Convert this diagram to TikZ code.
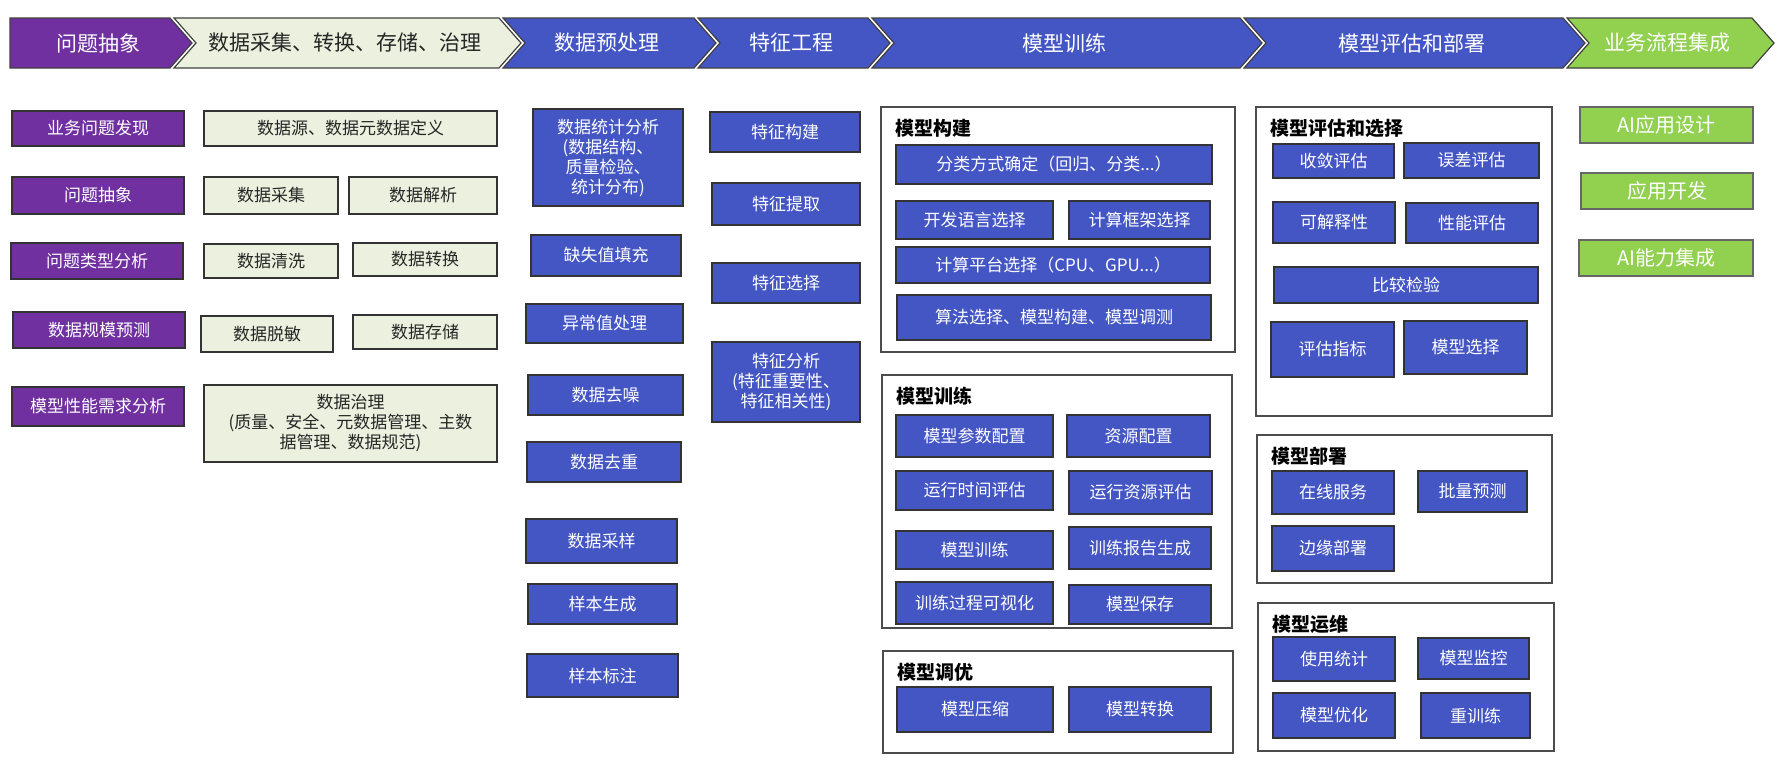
\documentclass[tikz,border=0pt]{standalone}
\usepackage{fontspec}
\setmainfont{Noto Sans CJK SC}
\usepackage{xcolor}
\usepackage{tikz}
\definecolor{AbsPurple}{RGB}{112, 48, 160}
\definecolor{DataPale}{RGB}{235, 241, 222}
\definecolor{PrepBlue}{RGB}{68, 86, 196}
\definecolor{BizGreen}{RGB}{146, 208, 80}

\tikzset{
  boxbase/.style={draw=black!80, line width=1.3pt, inner sep=1pt, align=center, font=\fontsize{17}{20}\selectfont},
  purplebox/.style={boxbase, fill=AbsPurple, text=white},
  palebox/.style={boxbase, fill=DataPale, text=black!85},
  bluebox/.style={boxbase, fill=PrepBlue, text=white},
  greenbox/.style={boxbase, draw=black!60, fill=BizGreen, text=white, font=\fontsize{20}{23}\selectfont},
  groupbox/.style={draw=black!70, line width=1.2pt, fill=white, inner sep=0pt},
  grouptitle/.style={anchor=west, inner sep=0pt, text=black, font=\bfseries\fontsize{19}{22}\selectfont},
  stagetext/.style={font=\fontsize{21}{24}\selectfont}
}

\begin{document}
\begin{tikzpicture}[x=1pt,y=-1pt]
  \path[use as bounding box] (0,0) rectangle (1782,769);

  % stage banner
  \foreach \n/\xa/\xb/\nd/\col/\tcol/\txt in {
    1/10/170/0/AbsPurple/white/问题抽象,
    2/174/499/22/DataPale/black!85/数据采集、转换、存储、治理,
    3/503/694/22/PrepBlue/white/数据预处理,
    4/698/868/22/PrepBlue/white/特征工程,
    5/872/1240/22/PrepBlue/white/模型训练,
    6/1244/1563/22/PrepBlue/white/模型评估和部署,
    7/1567/1752/22/BizGreen/white/业务流程集成}{
    \filldraw[fill=\col, draw=black!75, line width=1.2pt]
      (\xa,18) -- (\xb,18) -- ({\xb+22},43) -- (\xb,68) -- (\xa,68) -- ({\xa+\nd},43) -- cycle;
    \node[stagetext, text=\tcol] (stage\n) at ({(\xa+\xb)/2+8},43) {\txt};
  }

  % group frames
  \foreach \n/\xa/\ya/\xb/\yb/\txt in {
    g1/881/107/1235/352/模型构建,
    g2/882/375/1232/628/模型训练,
    g3/883/651/1233/753/模型调优,
    h1/1256/107/1552/416/模型评估和选择,
    h2/1257/435/1552/583/模型部署,
    h3/1258/603/1554/751/模型运维}{
    \node[groupbox, minimum width={(\xb-\xa)*1pt}, minimum height={(\yb-\ya)*1pt}] (\n) at ({(\xa+\xb)/2},{(\ya+\yb)/2}) {};
    \node[grouptitle] (\n title) at ({\xa+14},{\ya+21}) {\txt};
  }

  % problem abstraction
  \foreach \n/\xa/\ya/\xb/\yb/\txt in {
    p1/12/111/184/146/业务问题发现,
    p2/12/177/184/214/问题抽象,
    p3/11/243/183/279/问题类型分析,
    p4/13/312/185/348/数据规模预测,
    p5/12/387/184/426/模型性能需求分析}{
    \node[purplebox, minimum width={(\xb-\xa)*1pt}, minimum height={(\yb-\ya)*1pt}] (\n) at ({(\xa+\xb)/2},{(\ya+\yb)/2}) {\txt};
  }

  % data collection
  \foreach \n/\xa/\ya/\xb/\yb/\txt in {
    d1/204/111/497/146/数据源、数据元数据定义,
    d2/204/177/338/214/数据采集,
    d3/349/177/497/214/数据解析,
    d4/204/244/338/278/数据清洗,
    d5/353/243/497/276/数据转换,
    d6/201/316/333/352/数据脱敏,
    d7/353/315/497/349/数据存储,
    d8/204/385/497/462/{数据治理\\(质量、安全、元数据管理、主数\\据管理、数据规范)}}{
    \node[palebox, minimum width={(\xb-\xa)*1pt}, minimum height={(\yb-\ya)*1pt}] (\n) at ({(\xa+\xb)/2},{(\ya+\yb)/2}) {\txt};
  }

  % preprocessing, features, training, evaluation
  \foreach \n/\xa/\ya/\xb/\yb/\txt in {
    q1/533/109/683/206/{数据统计分析\\(数据结构、\\质量检验、\\统计分布)},
    q2/531/235/681/276/缺失值填充,
    q3/526/304/683/343/异常值处理,
    q4/528/375/683/415/数据去噪,
    q5/527/442/681/482/数据去重,
    q6/526/519/677/563/数据采样,
    q7/528/584/677/624/样本生成,
    q8/527/654/678/697/样本标注,
    f1/710/112/860/152/特征构建,
    f2/712/183/860/225/特征提取,
    f3/712/263/860/303/特征选择,
    f4/712/342/860/422/{特征分析\\(特征重要性、\\特征相关性)},
    m1/896/145/1212/184/{分类方式确定（回归、分类...）},
    m2/896/201/1053/239/开发语言选择,
    m3/1069/201/1210/239/计算框架选择,
    m4/896/247/1210/283/{计算平台选择（CPU、GPU...）},
    m5/897/295/1211/340/算法选择、模型构建、模型调测,
    t1/896/415/1053/457/模型参数配置,
    t2/1067/415/1210/457/资源配置,
    t3/896/471/1053/510/运行时间评估,
    t4/1069/471/1212/514/运行资源评估,
    t5/896/531/1053/569/模型训练,
    t6/1069/527/1211/569/训练报告生成,
    t7/896/582/1053/624/训练过程可视化,
    t8/1069/585/1211/624/模型保存,
    u1/897/687/1053/732/模型压缩,
    u2/1069/687/1211/732/模型转换,
    e1/1273/144/1394/178/收敛评估,
    e2/1404/143/1539/178/误差评估,
    e3/1273/202/1395/243/可解释性,
    e4/1406/203/1538/243/性能评估,
    e5/1274/267/1538/303/比较检验,
    e6/1271/322/1394/377/评估指标,
    e7/1404/321/1527/374/模型选择,
    s1/1272/471/1394/514/在线服务,
    s2/1418/471/1527/512/批量预测,
    s3/1272/526/1394/571/边缘部署,
    o1/1273/637/1395/681/使用统计,
    o2/1418/638/1529/679/模型监控,
    o3/1273/693/1395/738/模型优化,
    o4/1421/693/1530/738/重训练}{
    \node[bluebox, minimum width={(\xb-\xa)*1pt}, minimum height={(\yb-\ya)*1pt}] (\n) at ({(\xa+\xb)/2},{(\ya+\yb)/2}) {\txt};
  }

  % business integration
  \foreach \n/\xa/\ya/\xb/\yb/\txt in {
    a1/1580/107/1753/143/AI应用设计,
    a2/1581/173/1753/209/应用开发,
    a3/1579/240/1753/276/AI能力集成}{
    \node[greenbox, minimum width={(\xb-\xa)*1pt}, minimum height={(\yb-\ya)*1pt}] (\n) at ({(\xa+\xb)/2},{(\ya+\yb)/2}) {\txt};
  }
\end{tikzpicture}
\end{document}
